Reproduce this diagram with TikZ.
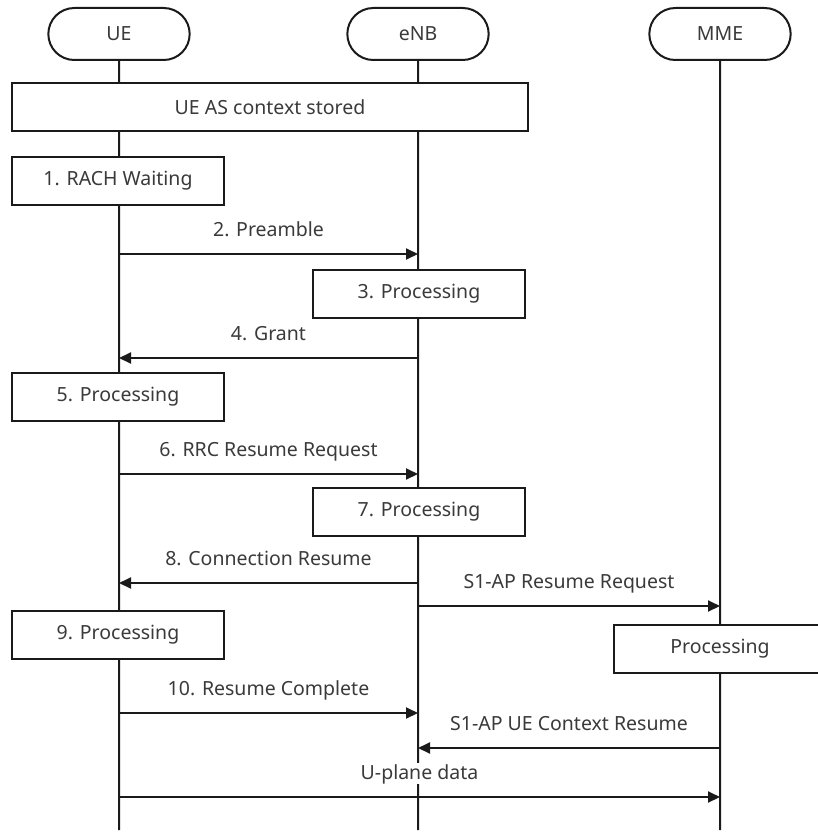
\documentclass[tikz,border=0pt]{standalone}
\usepackage{fontspec}
\setmainfont{Noto Sans}
\usepackage{tikz}
\usetikzlibrary{arrows.meta,positioning,shapes.misc}
\definecolor{linec}{HTML}{1A1A1A}
\definecolor{txtc}{HTML}{3A3A3A}
\newcommand{\msgfont}{\fontsize{19.5}{23}\selectfont}
\tikzset{
  ent/.style={rounded rectangle,draw=linec,line width=2pt,fill=white,minimum width=148pt,minimum height=52pt,text=txtc,font=\msgfont},
  box/.style={draw=linec,line width=2pt,fill=white,minimum width=212pt,minimum height=48pt,text=txtc,font=\msgfont},
  life/.style={line width=2pt,linec},
  ar/.style={-{Triangle[length=12pt,width=11pt]},line width=2pt,linec},
  lbl/.style={midway,above=12pt,fill=white,inner sep=1pt,text height=15pt,text depth=4pt,text=txtc,font=\msgfont}
}

\begin{document}
\begin{tikzpicture}[x=1pt,y=-1pt]
\useasboundingbox (0,0) rectangle (817,832);
% entities and lifelines
\node[ent] (ue) at (119,34) {UE};
\node[ent] (enb) at (418,34) {eNB};
\node[ent] (mme) at (720,34) {MME};
\coordinate (ueend) at (119,830);
\coordinate (enbend) at (418,830);
\coordinate (mmeend) at (720,830);
\draw[life] (ue) -- (ueend);
\draw[life] (enb) -- (enbend);
\draw[life] (mme) -- (mmeend);
% processing boxes
\node[box,minimum width=516pt] (ctx) at (270,107) {UE AS context stored};
\node[box] (s1) at (118,181) {1. RACH Waiting};
\node[box] (s3) at (419,294) {3. Processing};
\node[box] (s5) at (118,397) {5. Processing};
\node[box] (s7) at (419,512) {7. Processing};
\node[box] (s9) at (118,635) {9. Processing};
\node[box] (mp) at (720,649) {Processing};
% messages
\coordinate (m2) at (0,254);
\coordinate (m4) at (0,358);
\coordinate (m6) at (0,474);
\coordinate (m8) at (0,583);
\coordinate (ma) at (0,606);
\coordinate (m10) at (0,713);
\coordinate (mb) at (0,748);
\coordinate (mu) at (0,797);
\draw[ar] (ue |- m2) -- (enb |- m2) node[lbl]{2. Preamble};
\draw[ar] (enb |- m4) -- (ue |- m4) node[lbl]{4. Grant};
\draw[ar] (ue |- m6) -- (enb |- m6) node[lbl]{6. RRC Resume Request};
\draw[ar] (enb |- m8) -- (ue |- m8) node[lbl]{8. Connection Resume};
\draw[ar] (enb |- ma) -- (mme |- ma) node[lbl]{S1-AP Resume Request};
\draw[ar] (ue |- m10) -- (enb |- m10) node[lbl]{10. Resume Complete};
\draw[ar] (mme |- mb) -- (enb |- mb) node[lbl]{S1-AP UE Context Resume};
\draw[ar] (ue |- mu) -- (mme |- mu) node[lbl]{U-plane data};
\end{tikzpicture}
\end{document}
